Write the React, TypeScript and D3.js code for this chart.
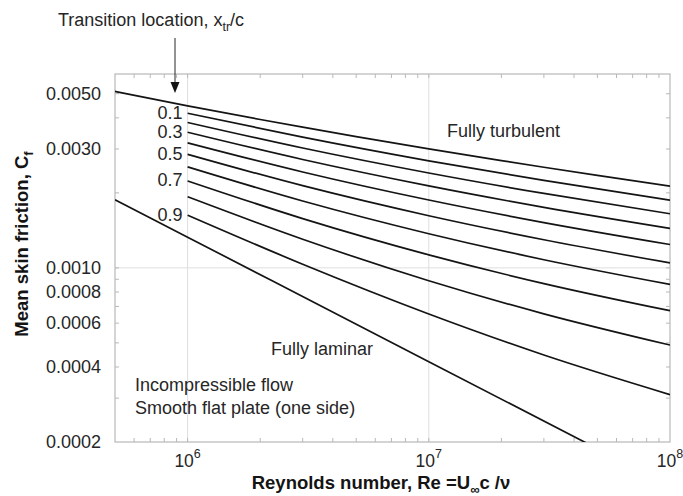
import React from 'react';
import * as d3 from 'd3';

// Reynolds numbers where the transition curves are read
const reynolds = [1e6, 3e6, 1e7, 3e7, 1e8];

// transition location x_tr/c, one curve each
const transitionLocations = [0.1, 0.2, 0.3, 0.4, 0.5, 0.6, 0.7, 0.8, 0.9];
const labeledLocations = [0.1, 0.3, 0.5, 0.7, 0.9];

// mean skin friction for each transition curve, at the Reynolds numbers above
const transitionCf = [
  [0.004175, 0.003347, 0.002689, 0.002244, 0.00187],
  [0.003834, 0.003027, 0.002403, 0.001989, 0.001649],
  [0.003501, 0.002722, 0.002133, 0.00175, 0.001441],
  [0.003176, 0.002426, 0.001872, 0.00152, 0.001241],
  [0.002857, 0.002137, 0.001619, 0.001297, 0.001047],
  [0.002543, 0.001855, 0.001371, 0.001078, 0.000858],
  [0.002234, 0.001577, 0.001128, 0.000865, 0.000673],
  [0.001929, 0.001303, 0.000888, 0.000654, 0.00049],
  [0.001627, 0.001034, 0.000653, 0.000447, 0.00031],
];

const turbulentRe = [5e5, 1e6, 2e6, 3e6, 5e6, 1e7, 2e7, 3e7, 5e7, 1e8];
const turbulentCf = [0.005106, 0.004471, 0.00394, 0.00367, 0.003364, 0.003004, 0.002695, 0.002534, 0.00235, 0.002128];

const laminarRe = [5e5, 1e6, 1e7, 1e8];
const laminarCf = [0.001878, 0.001328, 0.00042, 0.000133];

const yTickValues = [0.005, 0.003, 0.001, 0.0008, 0.0006, 0.0004, 0.0002];
const yTickLabels = ['0.0050', '0.0030', '0.0010', '0.0008', '0.0006', '0.0004', '0.0002'];
const xTickExponents = [6, 7, 8];
const gridRe = [1e6, 1e7];
const gridCf = [0.001];

const W = 683;
const H = 496;
const margin = { top: 74, right: 13, bottom: 54, left: 115 };
const font = '"Liberation Sans", Arial, Helvetica, sans-serif';

export default function App() {
  const x = d3.scaleLog().domain([5e5, 1e8]).range([margin.left, W - margin.right]);
  const y = d3.scaleLog().domain([0.0002, 0.006]).range([H - margin.bottom, margin.top]);
  const [x0, x1] = x.range();
  const [y0, y1] = y.range(); // y0 bottom, y1 top

  const line = d3
    .line<[number, number]>()
    .x(d => x(d[0]))
    .y(d => y(d[1]))
    .curve(d3.curveMonotoneX);

  // minor ticks on every side
  const xTicks: number[] = [];
  for (let d = 5; d <= 8; d++)
    for (let k = 1; k <= 9; k++) {
      const v = k * Math.pow(10, d);
      if (v > 5e5 && v < 1e8) xTicks.push(v);
    }
  const yTicks: number[] = [];
  for (let d = -4; d <= -3; d++)
    for (let k = 1; k <= 9; k++) {
      const v = k * Math.pow(10, d);
      if (v > 0.0002 + 1e-9 && v < 0.006) yTicks.push(v);
    }

  const tickLen = 4;
  const frameColor = '#b8b8b8';
  const gridColor = '#dedede';
  const ink = '#141414';
  const textColor = '#262626';

  return (
    <svg width={W} height={H} style={{ position: 'absolute', left: 0, top: 0, background: '#fff' }} fontFamily={font}>
      <defs>
        <clipPath id="plotClip">
          <rect x={x0} y={y1} width={x1 - x0} height={y0 - y1} />
        </clipPath>
      </defs>

      {/* grid */}
      {gridRe.map(v => (
        <line key={'gx' + v} x1={x(v)} x2={x(v)} y1={y1} y2={y0} stroke={gridColor} strokeWidth={1} />
      ))}
      {gridCf.map(v => (
        <line key={'gy' + v} x1={x0} x2={x1} y1={y(v)} y2={y(v)} stroke={gridColor} strokeWidth={1} />
      ))}

      {/* frame */}
      <rect x={x0} y={y1} width={x1 - x0} height={y0 - y1} fill="none" stroke={frameColor} strokeWidth={1.2} />

      {/* minor ticks */}
      {xTicks.map(v => (
        <g key={'tx' + v} stroke={frameColor} strokeWidth={1}>
          <line x1={x(v)} x2={x(v)} y1={y0} y2={y0 - tickLen} />
          <line x1={x(v)} x2={x(v)} y1={y1} y2={y1 + tickLen} />
        </g>
      ))}
      {yTicks.map(v => (
        <g key={'ty' + v} stroke={frameColor} strokeWidth={1}>
          <line x1={x0} x2={x0 + tickLen} y1={y(v)} y2={y(v)} />
          <line x1={x1} x2={x1 - tickLen} y1={y(v)} y2={y(v)} />
        </g>
      ))}

      {/* y tick labels */}
      {yTickValues.map((v, i) => (
        <text key={'yl' + v} x={x0 - 14} y={y(v)} dy="0.34em" textAnchor="end" fontSize={18} fill={textColor}>
          {yTickLabels[i]}
        </text>
      ))}

      {/* x tick labels */}
      {xTickExponents.map(e => (
        <text key={'xl' + e} x={x(Math.pow(10, e))} y={467} textAnchor="middle" fontSize={17.5} fill={textColor}>
          10
          <tspan fontSize={12.5} dy={-9}>
            {e}
          </tspan>
        </text>
      ))}

      {/* curves */}
      <g clipPath="url(#plotClip)" fill="none" stroke={ink} strokeWidth={1.7}>
        <path d={line(turbulentRe.map((r, i) => [r, turbulentCf[i]] as [number, number])) || ''} />
        <path d={line(laminarRe.map((r, i) => [r, laminarCf[i]] as [number, number])) || ''} />
        {transitionCf.map((row, j) => (
          <path key={'tr' + j} d={line(reynolds.map((r, i) => [r, row[i]] as [number, number])) || ''} />
        ))}
      </g>

      {/* transition labels */}
      {transitionLocations.map((loc, j) =>
        labeledLocations.includes(loc) ? (
          <text
            key={'lab' + loc}
            x={x(reynolds[0]) - 5}
            y={y(transitionCf[j][0])}
            dy="0.3em"
            textAnchor="end"
            fontSize={18}
            fill={textColor}
          >
            {loc.toFixed(1)}
          </text>
        ) : null
      )}

      {/* annotations */}
      <text x={58} y={26} fontSize={18} fill={textColor}>
        Transition location, x
        <tspan fontSize={12.5} dy={5}>tr</tspan>
        <tspan dy={-5}>/c</tspan>
      </text>
      <line x1={175} x2={175} y1={38} y2={84} stroke={textColor} strokeWidth={1} />
      <polygon points="170.5,82 179.5,82 175,93" fill={ink} />

      <text x={447} y={137} fontSize={18} fill={textColor}>Fully turbulent</text>
      <text x={271} y={355} fontSize={18} fill={textColor}>Fully laminar</text>
      <text x={135} y={391} fontSize={18} fill={textColor}>Incompressible flow</text>
      <text x={135} y={414} fontSize={18} fill={textColor}>Smooth flat plate (one side)</text>

      {/* axis titles */}
      <text x={381} y={489} textAnchor="middle" fontSize={18.5} fontWeight="bold" fill={ink}>
        Reynolds number, Re =U
        <tspan fontSize={13} dy={5}>∞</tspan>
        <tspan dy={-5}>c /ν</tspan>
      </text>
      <text
        transform="translate(28, 244) rotate(-90)"
        textAnchor="middle"
        fontSize={18.5}
        fontWeight="bold"
        fill={ink}
      >
        Mean skin friction, C
        <tspan fontSize={13} dy={5}>f</tspan>
      </text>
    </svg>
  );
}
